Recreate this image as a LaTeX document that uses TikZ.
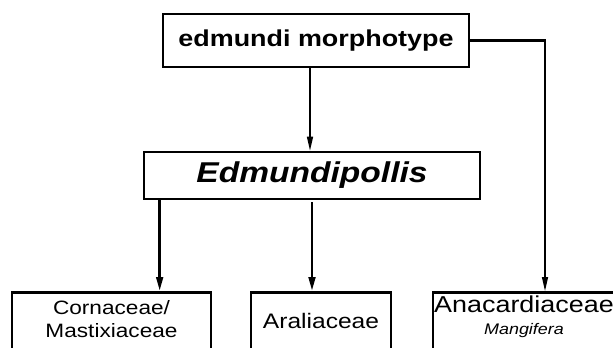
\documentclass[tikz,border=0pt]{standalone}
\usepackage{fontspec}
\setmainfont{Liberation Sans}[FakeStretch=1.17]
\usetikzlibrary{arrows.meta}

\begin{document}
\begin{tikzpicture}[x=0.75pt,y=-0.75pt,
  box/.style={draw,line width=2pt,inner sep=0pt,align=center},
  lowbox/.style={box,anchor=north},
  thinarr/.style={line width=1pt,-{Triangle[length=10.5pt,width=4.5pt]}},
  thickarr/.style={line width=2pt,-{Triangle[length=10.5pt,width=5pt]}}]
\useasboundingbox (0,0) rectangle (613,347);
\clip (0,0) rectangle (613,347);
\node[box,minimum width=229.5pt,minimum height=39.75pt,
  font=\fontsize{17.25}{20}\selectfont\bfseries] (morph) at (316,40.5) {edmundi morphotype};
\node[box,minimum width=252pt,minimum height=35.25pt,
  font=\fontsize{21.5}{24}\selectfont\bfseries\itshape] (edm) at (312,175.5) {Edmundipollis};
\node[lowbox,minimum width=149.25pt,font=\fontsize{14.5}{17.25}\selectfont] (corn) at (111.5,291)
  {\rule{0pt}{16.5pt}Cornaceae/\\Mastixiaceae\rule[-15pt]{0pt}{15pt}};
\node[lowbox,minimum width=105pt,font=\fontsize{15.75}{18}\selectfont] (aral) at (321,291)
  {\rule{0pt}{27pt}Araliaceae\rule[-20pt]{0pt}{20pt}};
\node[lowbox,minimum width=136.5pt,font=\fontsize{17.25}{16.5}\selectfont] (anac) at (524,291)
  {\rule{0pt}{15pt}Anacardiaceae\\{\fontsize{11.5}{12}\selectfont\itshape Mangifera}\rule[-15pt]{0pt}{15pt}};
\coordinate (bend) at (545,40.5);
% from the morphotype
\draw[thinarr] ([xshift=-4.5pt]morph.south) -- ([xshift=-4.5pt]morph.south |- edm.north);
\draw[line width=1.9pt] (morph.east) -- ([xshift=0.5pt]bend);
\draw[thinarr] ([yshift=0.95pt]bend) -- (bend |- anac.north);
% from the genus
\draw[thickarr] ([xshift=12.75pt]edm.south west) -- ([xshift=12.75pt]edm.south west |- corn.north);
\draw[thickarr] ([yshift=-1.5pt]edm.south) -- (edm.south |- aral.north);
\end{tikzpicture}
\end{document}
